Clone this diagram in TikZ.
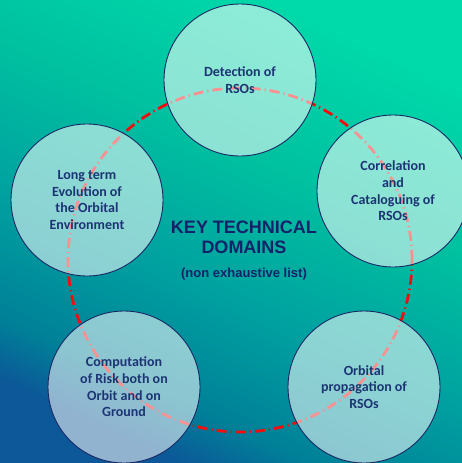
\documentclass[tikz,border=0pt]{standalone}
\usepackage{fontspec}
\setmainfont{Carlito}
\newfontfamily\titlefont{Liberation Sans}
\definecolor{bgA}{RGB}{12,88,152}
\definecolor{bgB}{RGB}{0,128,152}
\definecolor{bgC}{RGB}{0,160,160}
\definecolor{bgD}{RGB}{0,192,160}
\definecolor{bgE}{RGB}{0,218,170}
\pgfdeclareverticalshading{bgshade}{100bp}{color(0bp)=(bgA); color(25bp)=(bgA); color(31bp)=(bgB); color(43bp)=(bgC); color(58bp)=(bgD); color(75bp)=(bgE); color(100bp)=(bgE)}
\definecolor{navytxt}{RGB}{28,52,115}
\definecolor{navyline}{RGB}{25,40,100}
\definecolor{titlecol}{RGB}{20,35,105}
\definecolor{ringred}{RGB}{240,15,15}
\tikzset{
  dom/.style={circle, draw=navyline, line width=0.9pt, fill=white, fill opacity=0.55,
    text opacity=1, minimum size=152pt, inner sep=0pt, align=center,
    text=navytxt, font=\fontsize{14}{16.7}\selectfont\bfseries},
  ringstyle/.style={circle, draw=ringred, line width=2.8pt, minimum size=344pt, inner sep=0pt,
    dash pattern=on 10pt off 4pt on 1.2pt off 4pt},
  titlestyle/.style={align=center, text=titlecol, inner sep=0pt}
}
\begin{document}
\begin{tikzpicture}[x=1pt,y=-1pt]
\useasboundingbox (0,0) rectangle (462,463);
\shade[shading=bgshade, shading angle=-25] (0,0) rectangle (462,463);
\node[ringstyle] (ring) at (240,260) {};
\node[dom] (det) at (240,80) {Detection of\\RSOs};
\node[dom] (cor) at (393,191) {Correlation\\and\\Cataloguing of\\RSOs};
\node[dom] (orb) at (364,387) {Orbital\\propagation of\\RSOs};
\node[dom] (risk) at (124,387) {Computation\\of Risk both on\\Orbit and on\\Ground};
\node[dom] (evo) at (87,200) {Long term\\Evolution of\\the Orbital\\Environment};
\node[titlestyle, font=\titlefont\bfseries\fontsize{18}{20}\selectfont] (title) at (244,237) {KEY TECHNICAL\\DOMAINS};
\node[titlestyle, font=\titlefont\bfseries\fontsize{13}{14}\selectfont] (sub) at (244,274) {(non exhaustive list)};
\end{tikzpicture}
\end{document}
